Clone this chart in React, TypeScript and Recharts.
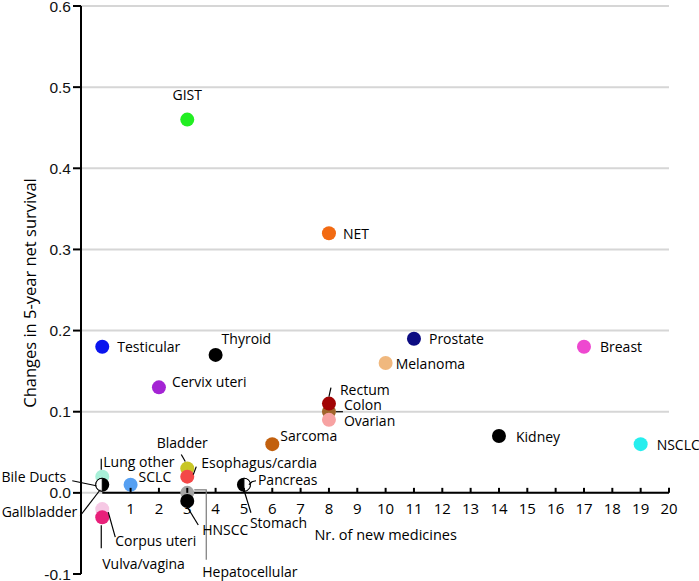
import React from 'react';
import { ScatterChart, Scatter, XAxis, YAxis, ReferenceLine } from 'recharts';

// ---------- data ----------
const cancerTypes = [
  'GIST', 'NET', 'Testicular', 'Thyroid', 'Cervix uteri', 'Prostate', 'Melanoma', 'Breast',
  'Colon', 'Rectum', 'Ovarian', 'Kidney', 'NSCLC', 'Sarcoma',
  'Bladder', 'Esophagus/cardia', 'Hepatocellular', 'HNSCC', 'Stomach', 'Pancreas',
  'SCLC', 'Lung other', 'Gallbladder', 'Bile Ducts', 'Corpus uteri', 'Vulva/vagina',
];
const newMedicines = [
  3, 8, 0, 4, 2, 11, 10, 17,
  8, 8, 8, 14, 19, 6,
  3, 3, 3, 3, 5, 5,
  1, 0, 0, 0, 0, 0,
];
const survivalChange = [
  0.46, 0.32, 0.18, 0.17, 0.13, 0.19, 0.16, 0.18,
  0.10, 0.11, 0.09, 0.07, 0.06, 0.06,
  0.03, 0.02, 0.0, -0.01, 0.01, 0.01,
  0.01, 0.02, 0.01, 0.01, -0.02, -0.03,
];
const yTicks = [-0.1, 0, 0.1, 0.2, 0.3, 0.4, 0.5, 0.6];
const xTicks = [1, 2, 3, 4, 5, 6, 7, 8, 9, 10, 11, 12, 13, 14, 15, 16, 17, 18, 19, 20];
const gridValues = [0, 0.1, 0.2, 0.3, 0.4, 0.5, 0.6];
const xAxisTitle = 'Nr. of new medicines';
const yAxisTitle = 'Changes in 5-year net survival';

const data = cancerTypes.map((name, i) => ({ name, x: newMedicines[i], y: survivalChange[i] }));

// ---------- styles ----------
type Marker = { fill: string; half?: 'left' | 'right' };
const markerStyle: Record<string, Marker> = {
  GIST: { fill: '#22ee22' },
  NET: { fill: '#f26a12' },
  Testicular: { fill: '#0a14ee' },
  Thyroid: { fill: '#000000' },
  'Cervix uteri': { fill: '#a424d4' },
  Prostate: { fill: '#0c0c82' },
  Melanoma: { fill: '#f0b87e' },
  Breast: { fill: '#ee48d0' },
  Colon: { fill: '#a0642a' },
  Rectum: { fill: '#a20404' },
  Ovarian: { fill: '#f7a2a2' },
  Kidney: { fill: '#000000' },
  NSCLC: { fill: '#26eeee' },
  Sarcoma: { fill: '#c2600e' },
  Bladder: { fill: '#c8c626' },
  'Esophagus/cardia': { fill: '#f44848' },
  Hepatocellular: { fill: '#a4a4a4' },
  HNSCC: { fill: '#000000' },
  Stomach: { fill: '#000000' },
  Pancreas: { fill: '#ffffff', half: 'right' },
  SCLC: { fill: '#56a0f2' },
  'Lung other': { fill: '#a8f0d8' },
  Gallbladder: { fill: '#000000' },
  'Bile Ducts': { fill: '#ffffff', half: 'left' },
  'Corpus uteri': { fill: '#f6c8e4' },
  'Vulva/vagina': { fill: '#e8207a' },
};

type LabelPos = { dx: number; dy: number; anchor?: 'start' | 'middle' | 'end'; leader?: number[][]; leaderColor?: string };
const labelLayout: Record<string, LabelPos> = {
  GIST: { dx: 0, dy: -25, anchor: 'middle' },
  NET: { dx: 14, dy: 0 },
  Testicular: { dx: 15, dy: 0 },
  Thyroid: { dx: 6, dy: -16 },
  'Cervix uteri': { dx: 13, dy: -6 },
  Prostate: { dx: 15, dy: 0 },
  Melanoma: { dx: 10, dy: 0 },
  Breast: { dx: 16, dy: 0 },
  Colon: { dx: 15, dy: -7, leader: [[7, 0], [14, 0]] },
  Rectum: { dx: 11, dy: -14, leader: [[0, -7], [2, -16]] },
  Ovarian: { dx: 15, dy: 1 },
  Kidney: { dx: 17, dy: 0 },
  NSCLC: { dx: 16, dy: 0 },
  Sarcoma: { dx: 8, dy: -9 },
  Bladder: { dx: -5, dy: -26, anchor: 'middle', leader: [[-6, -14], [-2, -7]] },
  'Esophagus/cardia': { dx: 14, dy: -14, leader: [[6, -2], [9, -10]] },
  Hepatocellular: { dx: 15, dy: 79, leader: [[7, -3], [19, -3], [19, 67]], leaderColor: '#7a7a7a' },
  HNSCC: { dx: 15, dy: 29, leader: [[0, 6], [11, 24]] },
  Stomach: { dx: 6, dy: 38, leader: [[-1, 2], [7, 28]] },
  Pancreas: { dx: 14, dy: -5, leader: [[5, 0], [8, -3], [12, -4]] },
  SCLC: { dx: 8, dy: -8 },
  'Lung other': { dx: 1, dy: -15, leader: [[-1, -7], [-1, -18]] },
  Gallbladder: { dx: -25, dy: 27, anchor: 'end', leader: [[-22, 31], [-2, 5]] },
  'Bile Ducts': { dx: -36, dy: -8, anchor: 'end', leader: [[-30, -4], [-6, 1]] },
  'Corpus uteri': { dx: 13, dy: 31, leader: [[6, 3], [13, 28]] },
  'Vulva/vagina': { dx: 0, dy: 46, leader: [[-1, 8], [-1, 31]] },
};

const W = 699;
const H = 581;
const MARGIN = { top: 6, right: 30, bottom: 6, left: 0 };
const X_AXIS_H = 1;
const Y_AXIS_W = 81;
const X_DOMAIN: [number, number] = [-0.75, 20];
const Y_DOMAIN: [number, number] = [-0.1, 0.6];
const PLOT_W = W - MARGIN.left - MARGIN.right - Y_AXIS_W;
const PLOT_H = H - MARGIN.top - MARGIN.bottom - X_AXIS_H;
const Y0 = MARGIN.top + (PLOT_H * (Y_DOMAIN[1] - 0)) / (Y_DOMAIN[1] - Y_DOMAIN[0]);
const FONT = '"Open Sans", sans-serif';
const R = 7;

const DotShape = (props: any) => {
  const { cx, cy, payload } = props;
  const st = markerStyle[payload.name];
  if (st.half === 'left') {
    const r = R - 0.5;
    return <path d={`M${cx},${cy - r} A${r},${r} 0 0 0 ${cx},${cy + r} Z`} fill={st.fill} stroke="#000" strokeWidth={1} />;
  }
  if (st.half === 'right') {
    const r = R - 0.5;
    return <path d={`M${cx},${cy - r} A${r},${r} 0 0 1 ${cx},${cy + r} Z`} fill={st.fill} stroke="#000" strokeWidth={1} />;
  }
  return <circle cx={cx} cy={cy} r={R} fill={st.fill} />;
};

const LabelShape = (props: any) => {
  const { cx, cy, payload } = props;
  const l = labelLayout[payload.name];
  return (
    <g>
      {l.leader && (
        <polyline
          points={l.leader.map(([a, b]) => `${cx + a},${cy + b}`).join(' ')}
          fill="none"
          stroke={l.leaderColor || '#000'}
          strokeWidth={1.2}
        />
      )}
      <text
        x={cx + l.dx}
        y={cy + l.dy}
        textAnchor={l.anchor || 'start'}
        dominantBaseline="central"
        fontFamily={FONT}
        fontSize={14}
        fill="#000"
      >
        {payload.name}
      </text>
    </g>
  );
};

const XTick = (props: any) => {
  const { x, payload } = props;
  return (
    <g>
      <line x1={x} x2={x} y1={Y0} y2={Y0 - 5} stroke="#000" strokeWidth={2} />
      <text x={x} y={Y0 + 15} textAnchor="middle" dominantBaseline="central" fontFamily={FONT} fontSize={15} fill="#000">
        {payload.value}
      </text>
    </g>
  );
};

const XTitle = () => {
  const cx = MARGIN.left + Y_AXIS_W + (PLOT_W * (10 - X_DOMAIN[0])) / (X_DOMAIN[1] - X_DOMAIN[0]);
  return (
    <text x={cx} y={Y0 + 42} textAnchor="middle" dominantBaseline="central" fontFamily={FONT} fontSize={14.5} fill="#000">
      {xAxisTitle}
    </text>
  );
};

const YTitle = () => {
  const x = 29;
  const y = MARGIN.top + PLOT_H / 2 + 3;
  return (
    <text x={x} y={y} transform={`rotate(-90, ${x}, ${y})`} textAnchor="middle" dominantBaseline="central" fontFamily={FONT} fontSize={16.5} fill="#000">
      {yAxisTitle}
    </text>
  );
};

export default function App() {
  return (
    <div style={{ position: 'absolute', left: 0, top: 0, width: W, height: H, background: '#fff' }}>
      <ScatterChart width={W} height={H} margin={MARGIN}>
        <XAxis
          type="number"
          dataKey="x"
          domain={X_DOMAIN}
          ticks={xTicks}
          interval={0}
          axisLine={false}
          tickLine={false}
          tick={<XTick />}
          height={X_AXIS_H}
          label={{ content: <XTitle /> }}
        />
        <YAxis
          type="number"
          dataKey="y"
          domain={Y_DOMAIN}
          ticks={yTicks}
          interval={0}
          width={Y_AXIS_W}
          axisLine={{ stroke: '#000', strokeWidth: 2 }}
          tickLine={{ stroke: '#000', strokeWidth: 2 }}
          tickSize={8}
          tickMargin={2}
          tickFormatter={(v: number) => v.toFixed(1)}
          tick={{ fill: '#111', fontSize: 15.5, fontFamily: '"Liberation Sans", Arial, sans-serif' }}
          label={{ content: <YTitle /> }}
        />
        {gridValues.map((g) => (
          <ReferenceLine key={g} y={g} stroke="#d6d6d6" strokeWidth={2} />
        ))}
        <ReferenceLine
          segment={[{ x: 0, y: 0 }, { x: 20, y: 0 }]}
          stroke="#000"
          strokeWidth={2}
        />
        <Scatter data={data} shape={<DotShape />} isAnimationActive={false} />
        <Scatter data={data} shape={<LabelShape />} isAnimationActive={false} />
      </ScatterChart>
    </div>
  );
}
